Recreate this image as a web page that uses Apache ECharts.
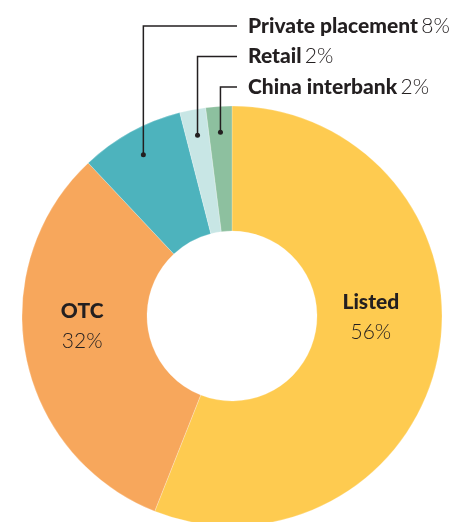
<!DOCTYPE html>
<html>
<head>
<meta charset="utf-8">
<script src="https://cdn.jsdelivr.net/npm/echarts@6/dist/echarts.min.js"></script>
<style>
  html, body { margin: 0; padding: 0; background: #fff; }
  #chart { width: 459px; height: 522px; }
</style>
</head>
<body>
<div id="chart"></div>
<script>
var categories = ['Listed', 'OTC', 'Private placement', 'Retail', 'China interbank']
var shares = [56, 32, 8, 2, 2]
var shareLabels = ['56%', '32%', '8%', '2%', '2%']
var colors = ['#fecb50', '#f7a75c', '#4db3bd', '#c8e6e5', '#8dc09f']

// layout
var cx = 232, cy = 316, rIn = 85, rOut = 210
var dotR = 184
var rowTop = 26, rowGap = 30.5, textLeft = 248, lineEnd = 237
var ink = '#231f20'

var myChart = echarts.init(document.getElementById('chart'))

var richText = {
  b: { fontFamily: 'Lato', fontWeight: 900, fontSize: 21, color: ink, lineHeight: 30 },
  v: { fontFamily: 'Lato', fontWeight: 300, fontSize: 21, color: ink, lineHeight: 30 }
}

// middle of each slice on a 0..total angle scale
var mids = []
var acc = 0
for (let i = 0; i < shares.length; i++) {
  mids.push(acc + shares[i] / 2)
  acc += shares[i]
}
var total = acc

// coloured ring, big slices labelled inside
var pieData = []
// transparent copy on top, carries the leader lines of the small slices
var calloutData = []
for (let i = 0; i < categories.length; i++) {
  var item = { name: categories[i], value: shares[i], itemStyle: { color: colors[i] } }
  if (i < 2) {
    item.label = { show: true, offset: i == 0 ? [-9, -27] : [-2, -18] }
  }
  pieData.push(item)
  calloutData.push({
    name: categories[i],
    value: shares[i],
    label: { show: i >= 2 },
    labelLine: { show: i >= 2 }
  })
}

var dotData = []
for (let i = 2; i < categories.length; i++) {
  dotData.push([dotR, mids[i]])
}

var option = {
  animation: false,
  polar: { center: [cx, cy], radius: rOut },
  angleAxis: { type: 'value', min: 0, max: total, startAngle: 90, clockwise: true, show: false },
  radiusAxis: { type: 'value', min: 0, max: rOut, show: false },
  series: [
    {
      type: 'pie',
      center: [cx, cy],
      radius: [rIn, rOut],
      startAngle: 90,
      clockwise: true,
      avoidLabelOverlap: false,
      silent: true,
      z: 2,
      itemStyle: { borderColor: 'rgba(255,255,255,0.6)', borderWidth: 0.4 },
      label: {
        show: false,
        position: 'inside',
        formatter: function (p) {
          return '{b|' + p.name + '}\n{v|' + shareLabels[p.dataIndex] + '}'
        },
        rich: richText
      },
      labelLine: { show: false },
      data: pieData
    },
    {
      type: 'pie',
      center: [cx, cy],
      radius: [rIn, rOut],
      startAngle: 90,
      clockwise: true,
      avoidLabelOverlap: false,
      silent: true,
      z: 3,
      itemStyle: { color: 'rgba(0,0,0,0)', borderWidth: 0 },
      label: {
        position: 'outside',
        formatter: function (p) {
          return '{b|' + p.name + '} {v|' + shareLabels[p.dataIndex] + '}'
        },
        rich: richText
      },
      labelLine: { length: 5, length2: 5, lineStyle: { color: ink, width: 1.5 } },
      labelLayout: function (params) {
        var i = params.dataIndex
        if (i < 2 || !params.labelLinePoints) return {}
        var p0 = params.labelLinePoints[0]
        var vx = p0[0] - cx, vy = p0[1] - cy
        var len = Math.sqrt(vx * vx + vy * vy)
        var dx = cx + vx / len * dotR, dy = cy + vy / len * dotR
        var row = rowTop + (i - 2) * rowGap
        return {
          x: textLeft,
          y: row,
          align: 'left',
          verticalAlign: 'middle',
          labelLinePoints: [[dx, dy], [dx, row], [lineEnd, row]]
        }
      },
      data: calloutData
    },
    {
      type: 'scatter',
      coordinateSystem: 'polar',
      silent: true,
      symbol: 'circle',
      symbolSize: 5,
      itemStyle: { color: ink, opacity: 1 },
      z: 5,
      data: dotData
    }
  ]
}

myChart.setOption(option)
</script>
</body>
</html>
